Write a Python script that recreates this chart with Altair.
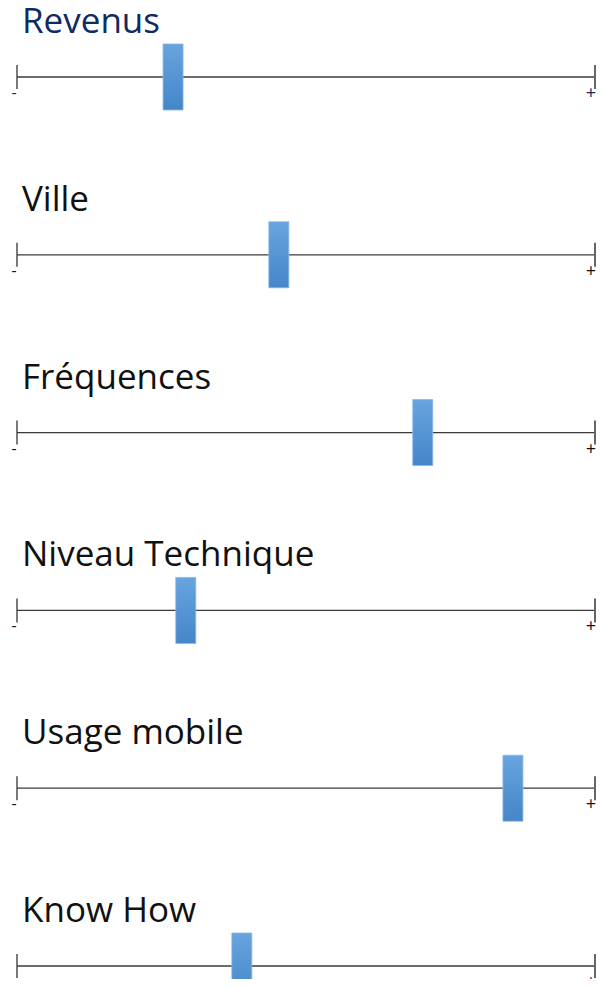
import altair as alt
import pandas as pd

labels = ["Revenus", "Ville", "Fréquences", "Niveau Technique", "Usage mobile", "Know How"]
values = [27.0, 45.3, 70.2, 29.2, 85.8, 38.9]
low_text = "-"
high_text = "+"
scale_min = 0
scale_max = 100

df = pd.DataFrame({
    "label": labels,
    "value": values,
    "row": list(range(len(labels))),
    "lo": [scale_min] * len(labels),
    "hi": [scale_max] * len(labels),
})

xs = alt.Scale(domain=[-1.557, 100.173], nice=False, zero=False)
ys = alt.Scale(domain=[-0.388, 5.073], reverse=True, nice=False, zero=False)

base = alt.Chart(df)
col = alt.condition(alt.datum.label == "Revenus", alt.value("#0f2b63"), alt.value("#111111"))

line = base.mark_rule(color="#3a3a3a", strokeWidth=1.3).encode(
    x=alt.X("lo:Q", scale=xs, axis=None), x2="hi:Q", y=alt.Y("row:Q", scale=ys, axis=None)
)
ltick = base.mark_tick(orient="vertical", size=24, thickness=1.3, color="#333333", opacity=1).encode(
    x=alt.X("lo:Q", scale=xs, axis=None), y=alt.Y("row:Q", scale=ys, axis=None)
)
rtick = base.mark_tick(orient="vertical", size=24, thickness=2, color="#666666", opacity=1).encode(
    x=alt.X("hi:Q", scale=xs, axis=None), y=alt.Y("row:Q", scale=ys, axis=None)
)
grad = alt.LinearGradient(
    gradient="linear",
    stops=[alt.GradientStop(color="#68a4df", offset=0), alt.GradientStop(color="#4486c8", offset=1)],
    x1=0, x2=0, y1=0, y2=1,
)
bars = base.mark_rect(width=20, height=66, color=grad, stroke="#86b8e6", strokeWidth=0.8).encode(
    x=alt.X("value:Q", scale=xs, axis=None), y=alt.Y("row:Q", scale=ys, axis=None)
)
minus = base.mark_text(text=low_text, dx=-3, dy=16, fontSize=16, font="Open Sans", align="center", baseline="middle").encode(
    x=alt.X("lo:Q", scale=xs, axis=None), y=alt.Y("row:Q", scale=ys, axis=None), color=col
)
plus = base.mark_text(text=high_text, dx=-4, dy=17, fontSize=18, font="Open Sans", align="center", baseline="middle").encode(
    x=alt.X("hi:Q", scale=xs, axis=None), y=alt.Y("row:Q", scale=ys, axis=None), color=col
)
titles = base.mark_text(dx=5, dy=-44, fontSize=35, font="Open Sans", align="left", baseline="alphabetic").encode(
    x=alt.X("lo:Q", scale=xs, axis=None), y=alt.Y("row:Q", scale=ys, axis=None), text="label:N", color=col
)

chart = alt.layer(line, ltick, rtick, bars, minus, plus, titles).properties(
    width=588, height=971, padding=0,
    autosize=alt.AutoSizeParams(type="none"),
).configure_view(stroke=None)

chart.save("out.html", embed_options={"renderer": "svg", "actions": False})
